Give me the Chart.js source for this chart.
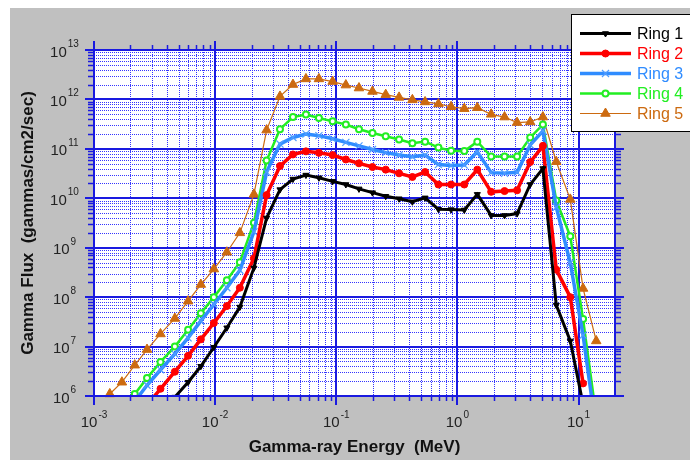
<!DOCTYPE html>
<html>
<head>
<meta charset="utf-8">
<title>Gamma Flux by Ring</title>
<script src="https://cdn.jsdelivr.net/npm/chart.js@4/dist/chart.umd.min.js"></script>
<style>
  html, body { margin: 0; padding: 0; background: #fff; }
  #wrap { width: 690px; height: 460px; position: relative; }
</style>
</head>
<body>
<div id="wrap"><canvas id="flux" width="690" height="460"></canvas></div>
<script>
// Energy bins (MeV) shared by all rings
const energyMeV = [0.00135, 0.0017, 0.00217, 0.00274, 0.00354, 0.00465, 0.00598, 0.00762, 0.00976, 0.0125,
  0.016, 0.0209, 0.0266, 0.0343, 0.0439, 0.0562, 0.0719, 0.0933, 0.120, 0.154,
  0.199, 0.256, 0.330, 0.425, 0.541, 0.697, 0.887, 1.14, 1.46, 1.90,
  2.45, 3.11, 3.99, 5.08, 6.55, 8.55, 10.9, 14.0];

// Gamma flux (gammas/cm2/sec) per ring; null = no value in that bin
const ring1 = [null, null, null, null, 4.5e5, 9.5e5, 1.9e6, 4.0e6, 9.7e6, 2.4e7,
  6.3e7, 3.9e8, 4.0e9, 1.5e10, 2.45e10, 2.95e10, 2.6e10, 2.2e10, 1.9e10, 1.55e10,
  1.3e10, 1.1e10, 9.8e9, 8.5e9, 1.02e10, 6.0e9, 5.9e9, 5.8e9, 1.2e10, 4.5e9,
  4.5e9, 4.9e9, 1.9e10, 4.0e10, 6.9e7, 1.3e7, 6.8e5, null];
const ring2 = [null, null, null, 6.5e5, 1.4e6, 3.1e6, 6.5e6, 1.4e7, 3.0e7, 6.6e7,
  1.55e8, 6.1e8, 1.16e10, 4.5e10, 7.7e10, 8.9e10, 8.3e10, 7.5e10, 6.1e10, 5.1e10,
  4.3e10, 3.8e10, 3.2e10, 2.7e10, 3.4e10, 1.9e10, 1.9e10, 1.9e10, 3.8e10, 1.35e10,
  1.4e10, 1.45e10, 5.4e10, 1.15e11, 3.6e8, 1.0e8, 1.8e6, null];
const ring3 = [null, null, 7.8e5, 1.65e6, 3.4e6, 7.1e6, 1.5e7, 3.3e7, 7.1e7, 1.55e8,
  3.5e8, 2.1e9, 3.4e10, 1.25e11, 1.7e11, 2.0e11, 1.85e11, 1.6e11, 1.35e11, 1.15e11,
  9.7e10, 8.4e10, 7.5e10, 6.9e10, 7.5e10, 4.8e10, 4.6e10, 4.7e10, 8.7e10, 3.3e10,
  3.2e10, 3.35e10, 1.2e11, 2.3e11, 6.6e9, 4.9e8, 1.7e7, 2.0e5];
const ring4 = [null, 5.4e5, 1.1e6, 2.3e6, 4.9e6, 1.0e7, 2.2e7, 4.7e7, 1.0e8, 2.2e8,
  5.1e8, 3.2e9, 5.8e10, 2.5e11, 4.4e11, 4.95e11, 4.2e11, 3.6e11, 3.1e11, 2.5e11,
  2.1e11, 1.8e11, 1.55e11, 1.3e11, 1.4e11, 1.06e11, 9.2e10, 9.0e10, 1.4e11, 7.0e10,
  7.0e10, 7.0e10, 1.7e11, 3.1e11, 9.0e9, 1.7e9, 3.6e7, 3.9e5];
const ring5 = [1.1e6, 1.9e6, 4.2e6, 8.7e6, 1.8e7, 3.7e7, 8.3e7, 1.8e8, 3.7e8, 8.1e8,
  2.0e9, 1.2e10, 2.4e11, 1.15e12, 2.0e12, 2.6e12, 2.6e12, 2.3e12, 1.95e12, 1.7e12,
  1.45e12, 1.25e12, 1.1e12, 9.8e11, 8.9e11, 8.1e11, 7.1e11, 6.5e11, 6.8e11, 5.0e11,
  4.4e11, 3.4e11, 3.5e11, 4.4e11, 5.5e10, 9.5e9, 1.5e8, 1.3e7];

const seriesNames = ['Ring 1', 'Ring 2', 'Ring 3', 'Ring 4', 'Ring 5'];

// Axis decades (tick labels are 10^n)
const xDecades = [-3, -2, -1, 0, 1];
const yDecades = [6, 7, 8, 9, 10, 11, 12, 13];
const xRange = [0.001, 20];
const yRange = [1e6, 1e13];

const FONT = '"Liberation Sans", Arial, Helvetica, sans-serif';
const GRID_MAJOR = '#1a1ae0';
const GRID_MINOR = '#3535ff';

function toPoints(values) {
  const pts = [];
  values.forEach((v, i) => { if (v !== null) pts.push({ x: energyMeV[i], y: v }); });
  return pts;
}

const styles = [
  { color: '#000000', width: 3,   pointStyle: 'triangle', rotation: 180, radius: 3.5, bg: '#000000', pc: '#000000', pbw: 1 },
  { color: '#ff0000', width: 3.5, pointStyle: 'circle',   rotation: 0,   radius: 3.5, bg: '#ff0000', pc: '#ff0000', pbw: 1 },
  { color: '#2f8cff', width: 3.5, pointStyle: 'crossRot', rotation: 0,   radius: 5,   bg: '#2f8cff', pc: '#4f9cff', pbw: 1.2 },
  { color: '#22ee22', width: 2.5, pointStyle: 'circle',   rotation: 0,   radius: 3,   bg: '#ffffff', pc: '#22ee22', pbw: 2 },
  { color: '#cc6a10', width: 1.2, pointStyle: 'triangle', rotation: 0,   radius: 5.5, bg: '#cc6a10', pc: '#cc6a10', pbw: 1 }
];
const ringValues = [ring1, ring2, ring3, ring4, ring5];

const datasets = ringValues.map((vals, i) => {
  const s = styles[i];
  return {
    label: seriesNames[i],
    data: toPoints(vals),
    borderColor: s.color,
    backgroundColor: s.bg,
    borderWidth: s.width,
    pointStyle: s.pointStyle,
    pointRotation: s.rotation,
    pointRadius: s.radius,
    pointBorderColor: s.pc,
    pointBackgroundColor: s.bg,
    pointBorderWidth: s.pbw,
    pointHoverRadius: s.radius,
    tension: 0,
    fill: false,
    clip: i === 4 ? false : 0
  };
});

function minorValues(decades, hi) {
  const out = [];
  decades.forEach(d => {
    for (let k = 2; k <= 9; k++) {
      const v = k * Math.pow(10, d);
      if (v < hi) out.push(v);
    }
  });
  return out;
}

function drawPower(ctx, cx, yBase, yExp, exponent) {
  ctx.font = '15px ' + FONT;
  const w10 = ctx.measureText('10').width;
  ctx.font = '10px ' + FONT;
  const we = ctx.measureText(exponent).width;
  const x0 = cx - (w10 + 1 + we) / 2;
  ctx.fillStyle = '#222';
  ctx.textAlign = 'left';
  ctx.textBaseline = 'alphabetic';
  ctx.font = '15px ' + FONT;
  ctx.fillText('10', x0, yBase);
  ctx.font = '10px ' + FONT;
  ctx.fillText(exponent, x0 + w10 + 1, yExp);
}

const framePlugin = {
  id: 'frame',
  beforeDraw(chart) {
    const { ctx, chartArea: a } = chart;
    ctx.save();
    ctx.fillStyle = '#ffffff';
    ctx.fillRect(0, 0, chart.width, chart.height);
    ctx.fillStyle = '#c0c0c0';
    ctx.fillRect(10, 8, chart.width - 10, chart.height - 8);
    ctx.fillStyle = '#ffffff';
    ctx.fillRect(a.left, a.top, a.right - a.left, a.bottom - a.top);
    ctx.restore();
  },
  beforeDatasetsDraw(chart) {
    const { ctx, chartArea: a, scales: { x, y } } = chart;
    ctx.save();
    // dotted minor grid
    ctx.strokeStyle = GRID_MINOR;
    ctx.lineWidth = 1;
    ctx.setLineDash([1, 1]);
    minorValues(xDecades, xRange[1]).forEach(v => {
      const px = Math.round(x.getPixelForValue(v)) + 0.5;
      ctx.beginPath(); ctx.moveTo(px, a.top); ctx.lineTo(px, a.bottom); ctx.stroke();
    });
    minorValues(yDecades.slice(0, -1), yRange[1]).forEach(v => {
      const py = Math.round(y.getPixelForValue(v)) + 0.5;
      ctx.beginPath(); ctx.moveTo(a.left, py); ctx.lineTo(a.right, py); ctx.stroke();
    });
    // solid decade grid
    ctx.setLineDash([]);
    ctx.strokeStyle = GRID_MAJOR;
    ctx.lineWidth = 2;
    xDecades.forEach(d => {
      const px = Math.round(x.getPixelForValue(Math.pow(10, d)));
      ctx.beginPath(); ctx.moveTo(px, a.top); ctx.lineTo(px, a.bottom); ctx.stroke();
    });
    yDecades.forEach(d => {
      const py = Math.round(y.getPixelForValue(Math.pow(10, d)));
      ctx.beginPath(); ctx.moveTo(a.left, py); ctx.lineTo(a.right, py); ctx.stroke();
    });
    ctx.restore();
  },
  afterDatasetsDraw(chart) {
    const { ctx, chartArea: a, scales: { x, y } } = chart;
    ctx.save();
    ctx.strokeStyle = GRID_MAJOR;
    ctx.lineWidth = 2;
    ctx.strokeRect(a.left, a.top, a.right - a.left, a.bottom - a.top);
    // tick marks on all four sides, pointing outward
    const tick = (x1, y1, x2, y2) => { ctx.beginPath(); ctx.moveTo(x1, y1); ctx.lineTo(x2, y2); ctx.stroke(); };
    ctx.lineWidth = 2;
    xDecades.forEach(d => {
      const px = Math.round(x.getPixelForValue(Math.pow(10, d)));
      tick(px, a.bottom, px, a.bottom + 9);
      tick(px, a.top, px, a.top - 9);
    });
    yDecades.forEach(d => {
      const py = Math.round(y.getPixelForValue(Math.pow(10, d)));
      tick(a.left - 9, py, a.left, py);
      tick(a.right, py, a.right + 9, py);
    });
    ctx.lineWidth = 1.5;
    minorValues(xDecades, xRange[1]).forEach(v => {
      const px = Math.round(x.getPixelForValue(v)) + 0.5;
      tick(px, a.bottom, px, a.bottom + 5);
      tick(px, a.top, px, a.top - 5);
    });
    minorValues(yDecades.slice(0, -1), yRange[1]).forEach(v => {
      const py = Math.round(y.getPixelForValue(v)) + 0.5;
      tick(a.left - 6, py, a.left, py);
      tick(a.right, py, a.right + 6, py);
    });
    // power-of-ten labels
    xDecades.forEach(d => {
      const px = x.getPixelForValue(Math.pow(10, d));
      drawPower(ctx, px, a.bottom + 31, a.bottom + 22, String(d));
    });
    yDecades.forEach(d => {
      const py = y.getPixelForValue(Math.pow(10, d));
      drawPower(ctx, 64.5, py + 6.5, py - 3, String(d));
    });
    ctx.restore();
  },
  afterDraw(chart) {
    // legend box in the upper right corner
    const ctx = chart.ctx;
    ctx.save();
    ctx.fillStyle = '#ffffff';
    ctx.fillRect(571, 14, 130, 118);
    ctx.strokeStyle = '#000000';
    ctx.lineWidth = 1;
    ctx.strokeRect(571.5, 14.5, 130, 117);
    chart.data.datasets.forEach((ds, i) => {
      const yy = 33.5 + i * 20;
      ctx.strokeStyle = ds.borderColor;
      ctx.lineWidth = ds.borderWidth;
      ctx.beginPath(); ctx.moveTo(580, yy); ctx.lineTo(631, yy); ctx.stroke();
      ctx.fillStyle = ds.pointBackgroundColor;
      ctx.strokeStyle = ds.pointBorderColor;
      ctx.lineWidth = ds.pointBorderWidth;
      if (Chart.helpers && Chart.helpers.drawPoint) {
        Chart.helpers.drawPoint(ctx, {
          pointStyle: ds.pointStyle, rotation: ds.pointRotation,
          radius: ds.pointRadius, borderWidth: ds.pointBorderWidth
        }, 605.5, yy);
      }
      ctx.fillStyle = ds.borderColor;
      ctx.font = '16px ' + FONT;
      ctx.textAlign = 'left';
      ctx.textBaseline = 'middle';
      ctx.fillText(ds.label, 637, yy + 1);
    });
    ctx.restore();
  }
};

new Chart(document.getElementById('flux'), {
  type: 'line',
  data: { datasets },
  options: {
    responsive: false,
    animation: false,
    devicePixelRatio: 1,
    layout: { padding: { left: 10, top: 50, right: 75, bottom: 0 } },
    plugins: { legend: { display: false }, tooltip: { enabled: false } },
    scales: {
      x: {
        type: 'logarithmic',
        position: 'bottom',
        min: xRange[0],
        max: xRange[1],
        grid: { display: false },
        border: { display: false },
        ticks: { display: false },
        title: {
          display: true,
          text: 'Gamma-ray Energy  (MeV)',
          color: '#111',
          font: { family: FONT, size: 17, weight: 'bold' },
          padding: { top: 0, bottom: 2 }
        },
        afterFit(scale) { scale.height = 64; }
      },
      y: {
        type: 'logarithmic',
        position: 'left',
        min: yRange[0],
        max: yRange[1],
        grid: { display: false },
        border: { display: false },
        ticks: { display: false },
        title: {
          display: true,
          text: 'Gamma Flux  (gammas/cm2/sec)',
          color: '#111',
          font: { family: FONT, size: 17, weight: 'bold' },
          padding: { top: 8, bottom: 0 }
        },
        afterFit(scale) { scale.width = 84; }
      }
    }
  },
  plugins: [framePlugin]
});
</script>
</body>
</html>
